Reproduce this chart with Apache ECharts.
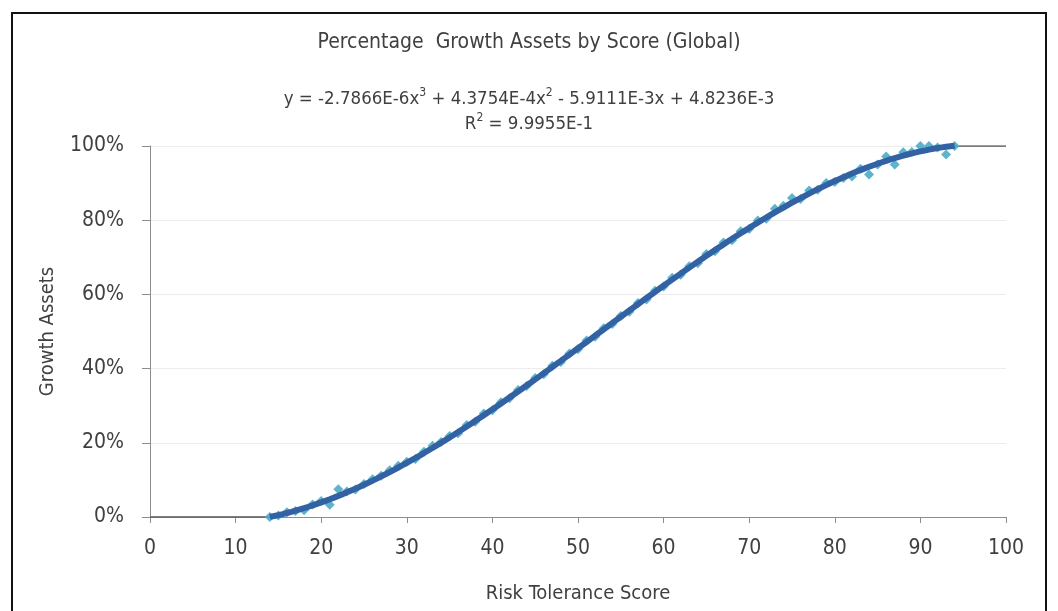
<!DOCTYPE html>
<html>
<head>
<meta charset="utf-8">
<title>Percentage Growth Assets by Score (Global)</title>
<script src="https://cdn.jsdelivr.net/npm/echarts@6/dist/echarts.min.js"></script>
<style>
  html, body { margin: 0; padding: 0; background: #ffffff; }
  #chart { width: 1058px; height: 611px; }
</style>
</head>
<body>
<div id="chart"></div>
<script>
// Risk tolerance scores that carry an observed allocation
const scores = [
  14, 15, 16, 17, 18, 19, 20, 21, 22, 23, 24, 25, 26, 27, 28, 29, 30,
  31, 32, 33, 34, 35, 36, 37, 38, 39, 40, 41, 42, 43, 44, 45, 46, 47,
  48, 49, 50, 51, 52, 53, 54, 55, 56, 57, 58, 59, 60, 61, 62, 63, 64,
  65, 66, 67, 68, 69, 70, 71, 72, 73, 74, 75, 76, 77, 78, 79, 80, 81,
  82, 83, 84, 85, 86, 87, 88, 89, 90, 91, 92, 93, 94
];
// Percentage of growth assets at each score
const growthPct = [
  0.0, 0.4, 1.3, 1.6, 1.8, 3.4, 4.3, 3.3, 7.5, 6.9, 7.4, 8.9, 10.2, 11.1, 12.6, 13.8, 14.9,
  15.6, 17.6, 19.2, 20.2, 21.8, 22.6, 24.8, 25.7, 27.9, 28.8, 30.9, 32.0, 34.2, 35.3, 37.5, 38.5, 40.8,
  41.8, 44.1, 45.2, 47.6, 48.6, 50.9, 52.0, 54.2, 55.3, 57.7, 58.6, 61.0, 62.1, 64.5, 65.3, 67.6, 68.4,
  70.9, 71.6, 74.0, 74.6, 77.0, 77.6, 79.9, 80.4, 83.1, 83.9, 86.0, 85.7, 88.0, 88.2, 90.0, 90.3, 91.4,
  91.8, 93.9, 92.3, 95.0, 97.2, 95.0, 98.3, 98.4, 100.0, 100.0, 99.6, 97.7, 100.0
];
// Flat allocation outside the scored range (0% below, 100% above)
const lowTailScores = [0, 14];
const lowTailPct = [0, 0];
const highTailScores = [94, 100];
const highTailPct = [100, 100];

// Cubic trend coefficients, highest power first (shown in the equation)
const trendCoef = [-2.7866e-6, 4.3754e-4, -5.9111e-3, 4.8236e-3];
const trendRange = [14, 94];

// Axis ticks
const xTicks = [0, 10, 20, 30, 40, 50, 60, 70, 80, 90, 100];
const yTicks = [0, 20, 40, 60, 80, 100];

const FONT = '"Liberation Sans Narrow", "DejaVu Sans Condensed", "Arial Narrow", sans-serif';
const TEXT = '#404040';

function trendAt(x) {
  return trendCoef.reduce((acc, c) => acc * x + c, 0) * 100;
}
const trendData = [];
for (let x = trendRange[0]; x <= trendRange[1] + 1e-9; x += 0.5) {
  trendData.push([x, trendAt(x)]);
}

const chart = echarts.init(document.getElementById('chart'), null, { renderer: 'canvas' });

const supStyle = { fontFamily: FONT, fontSize: 12, color: TEXT, verticalAlign: 'top', lineHeight: 14 };

const option = {
  backgroundColor: '#ffffff',
  animation: false,
  textStyle: { fontFamily: FONT },
  title: [
    {
      text: 'Percentage  Growth Assets by Score (Global)',
      left: 'center',
      top: 27,
      textStyle: { fontFamily: FONT, fontSize: 21, fontWeight: 'normal', color: TEXT }
    },
    {
      text: 'y = -2.7866E-6x{sup|3} + 4.3754E-4x{sup|2} - 5.9111E-3x + 4.8236E-3',
      left: 'center',
      top: 82,
      textStyle: {
        fontFamily: FONT, fontSize: 18.5, fontWeight: 'normal', color: TEXT, lineHeight: 24,
        rich: { sup: supStyle }
      }
    },
    {
      text: 'R{sup|2} = 9.9955E-1',
      left: 'center',
      top: 107,
      textStyle: {
        fontFamily: FONT, fontSize: 18.5, fontWeight: 'normal', color: TEXT, lineHeight: 24,
        rich: { sup: supStyle }
      }
    }
  ],
  graphic: [
    {
      type: 'rect',
      silent: true,
      shape: { x: 12, y: 13, width: 1034, height: 620 },
      style: { fill: 'none', stroke: '#111111', lineWidth: 2 }
    }
  ],
  grid: { left: 150, right: 52, top: 146, bottom: 94, containLabel: false },
  xAxis: {
    type: 'value',
    min: xTicks[0],
    max: xTicks[xTicks.length - 1],
    interval: xTicks[1] - xTicks[0],
    name: 'Risk Tolerance Score',
    nameLocation: 'middle',
    nameGap: 67,
    nameTextStyle: { fontFamily: FONT, fontSize: 20, color: TEXT },
    axisLine: { show: true, lineStyle: { color: '#8c8c8c', width: 1 } },
    axisTick: { show: true, length: 6, lineStyle: { color: '#8c8c8c' } },
    axisLabel: { fontFamily: FONT, fontSize: 21, color: TEXT, margin: 21 },
    splitLine: { show: false }
  },
  yAxis: {
    type: 'value',
    min: yTicks[0],
    max: yTicks[yTicks.length - 1],
    interval: yTicks[1] - yTicks[0],
    name: 'Growth Assets',
    nameLocation: 'middle',
    nameRotate: 90,
    nameGap: 92,
    nameTextStyle: { fontFamily: FONT, fontSize: 20, color: TEXT },
    axisLine: { show: true, lineStyle: { color: '#8c8c8c', width: 1 } },
    axisTick: { show: true, length: 8, lineStyle: { color: '#8c8c8c' } },
    axisLabel: { fontFamily: FONT, fontSize: 21, color: TEXT, margin: 26, formatter: '{value}%' },
    splitLine: { show: true, lineStyle: { color: '#ececec', width: 1 } }
  },
  series: [
    {
      name: 'Below range',
      type: 'line',
      data: lowTailScores.map((s, i) => [s, lowTailPct[i]]),
      symbol: 'none',
      lineStyle: { color: '#555555', width: 1.5 },
      z: 1
    },
    {
      name: 'Above range',
      type: 'line',
      data: highTailScores.map((s, i) => [s, highTailPct[i]]),
      symbol: 'none',
      lineStyle: { color: '#555555', width: 1.5 },
      z: 1
    },
    {
      name: 'Growth Assets',
      type: 'scatter',
      data: scores.map((s, i) => [s, growthPct[i]]),
      symbol: 'diamond',
      symbolSize: 10,
      itemStyle: { color: '#4bacc6', opacity: 0.9 },
      z: 2
    },
    {
      name: 'Poly. trend',
      type: 'line',
      data: trendData,
      symbol: 'none',
      smooth: false,
      lineStyle: { color: '#3262a4', width: 6 },
      z: 3
    }
  ]
};

chart.setOption(option);
</script>
</body>
</html>
